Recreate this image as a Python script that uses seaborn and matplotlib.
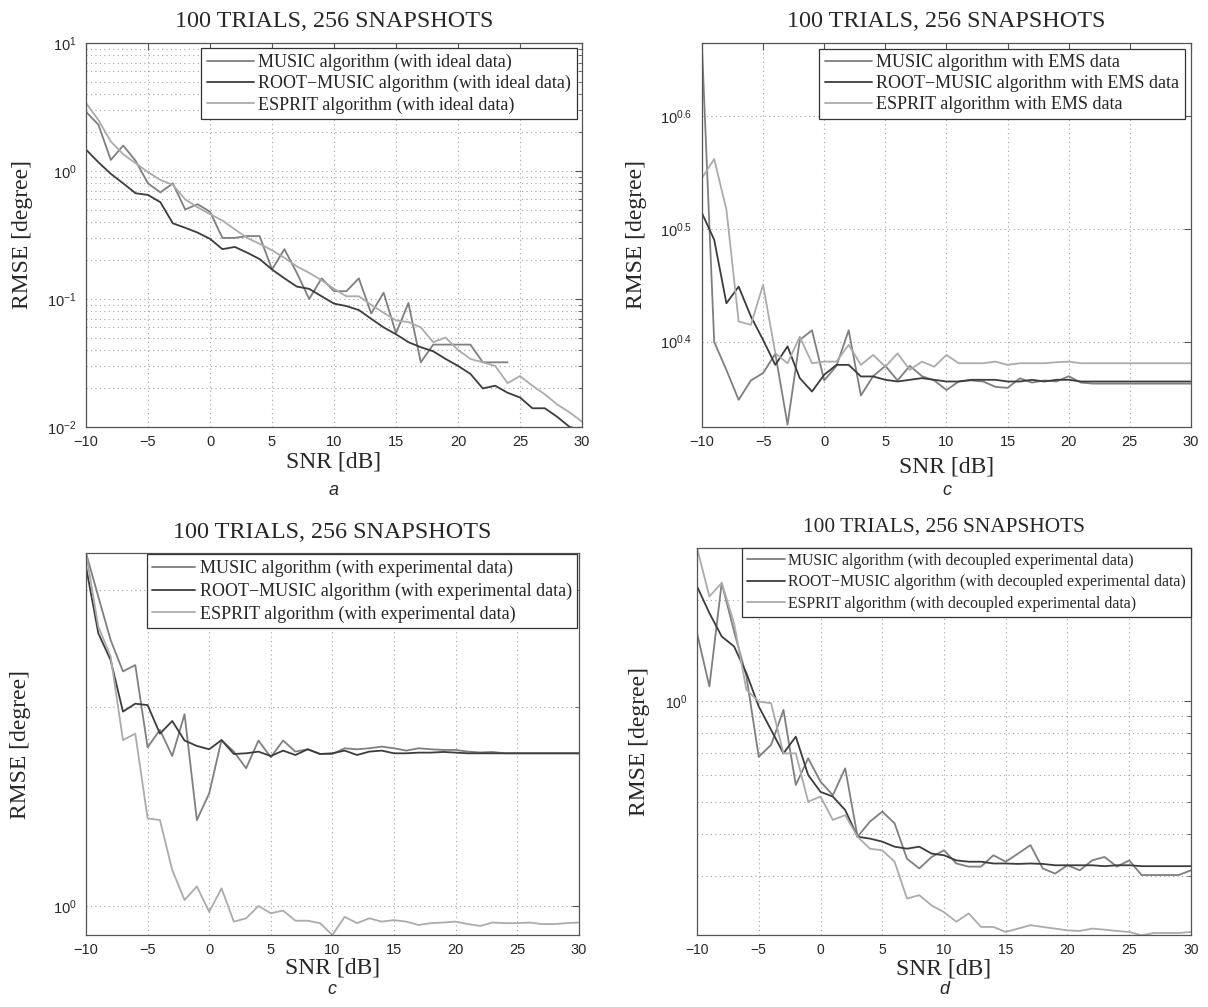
import numpy as np
import pandas as pd
import seaborn as sns
import matplotlib.pyplot as plt
from matplotlib.ticker import FixedLocator, NullLocator, NullFormatter, FixedFormatter

snr = list(range(-10, 31))
methods = ["MUSIC", "ROOT\u2212MUSIC", "ESPRIT"]
colors = ["#7f7f7f", "#3c3c3c", "#ababab"]

# a: ideal data
music_ideal = [2.9, 2.3, 1.22, 1.58, 1.2, 0.8, 0.68, 0.8, 0.5, 0.55, 0.48, 0.3, 0.3, 0.31, 0.31,
               0.17, 0.245, 0.16, 0.1, 0.145, 0.115, 0.115, 0.145, 0.077, 0.112, 0.054, 0.093,
               0.032, 0.044, 0.044, 0.044, 0.044, 0.032, 0.032, 0.032,
               np.nan, np.nan, np.nan, np.nan, np.nan, np.nan]
root_ideal = [1.47, 1.17, 0.95, 0.80, 0.67, 0.65, 0.57, 0.39, 0.36, 0.33, 0.295, 0.245, 0.255,
              0.23, 0.205, 0.17, 0.145, 0.125, 0.12, 0.105, 0.092, 0.088, 0.082, 0.07, 0.06,
              0.053, 0.046, 0.042, 0.039, 0.034, 0.03, 0.026, 0.02, 0.021, 0.0185, 0.017,
              0.014, 0.014, 0.012, 0.01, 0.0095]
esprit_ideal = [3.4, 2.5, 1.7, 1.35, 1.15, 0.98, 0.85, 0.78, 0.6, 0.52, 0.46, 0.41, 0.35, 0.3,
                0.27, 0.24, 0.21, 0.18, 0.16, 0.14, 0.12, 0.105, 0.105, 0.09, 0.078, 0.068,
                0.066, 0.06, 0.046, 0.05, 0.04, 0.034, 0.032, 0.03, 0.022, 0.025, 0.021,
                0.018, 0.015, 0.013, 0.011]

# c (top): EMS data
music_ems = [4.59, 2.51, 2.37, 2.23, 2.32, 2.355, 2.45, 2.12, 2.52, 2.57, 2.32, 2.39, 2.57,
             2.25, 2.34, 2.39, 2.32, 2.39, 2.34, 2.32, 2.275, 2.315, 2.32, 2.315, 2.29, 2.285,
             2.33, 2.31, 2.32, 2.315, 2.34, 2.31,
             2.305, 2.305, 2.305, 2.305, 2.305, 2.305, 2.305, 2.305, 2.305]
root_ems = [3.265, 3.092, 2.716, 2.81, 2.644, 2.52, 2.395, 2.487, 2.331, 2.268, 2.347, 2.395,
            2.395, 2.339, 2.339, 2.323, 2.315, 2.323, 2.331, 2.323, 2.315, 2.315, 2.323, 2.323,
            2.323, 2.315, 2.315, 2.323, 2.315, 2.323, 2.323,
            2.315, 2.315, 2.315, 2.315, 2.315, 2.315, 2.315, 2.315, 2.315, 2.315]
esprit_ems = [3.508, 3.646, 3.288, 2.617, 2.599, 2.82, 2.452, 2.403, 2.537, 2.403, 2.411, 2.411,
              2.495, 2.395, 2.444, 2.386, 2.452, 2.371, 2.411, 2.386, 2.444, 2.403, 2.403,
              2.403, 2.411, 2.395, 2.403, 2.403, 2.403, 2.408, 2.411, 2.403, 2.403, 2.403,
              2.403, 2.403, 2.403, 2.403, 2.403, 2.403, 2.403]

# c (bottom): experimental data
music_exp = [3.41, 2.93, 2.52, 2.26, 2.31, 1.736, 1.844, 1.684, 1.947, 1.348, 1.479, 1.78, 1.71,
             1.614, 1.777, 1.677, 1.777, 1.71, 1.724, 1.696, 1.696, 1.73, 1.724, 1.73, 1.74,
             1.73, 1.716, 1.73, 1.724, 1.72, 1.72, 1.71, 1.705, 1.708, 1.70,
             1.70, 1.70, 1.70, 1.70, 1.70, 1.70]
root_exp = [3.25, 2.58, 2.35, 1.965, 2.02, 2.01, 1.82, 1.902, 1.777, 1.744, 1.724, 1.78, 1.696,
            1.70, 1.71, 1.684, 1.716, 1.69, 1.724, 1.696, 1.70, 1.716, 1.69, 1.71, 1.716, 1.70,
            1.70, 1.704, 1.704, 1.708, 1.704, 1.70,
            1.70, 1.70, 1.70, 1.70, 1.70, 1.70, 1.70, 1.70, 1.70]
esprit_exp = [3.41, 2.64, 2.38, 1.78, 1.82, 1.356, 1.348, 1.133, 1.021, 1.07, 0.98, 1.063, 0.947,
              0.958, 1.0, 0.975, 0.984, 0.95, 0.95, 0.942, 0.904, 0.963, 0.942, 0.958, 0.947,
              0.952, 0.947, 0.936, 0.942, 0.944, 0.947, 0.939, 0.933, 0.944, 0.942, 0.942,
              0.944, 0.939, 0.939, 0.942, 0.944]

# d: decoupled experimental data
music_dec = [1.594, 1.104, 2.249, 1.612, 1.183, 0.681, 0.739, 0.94, 0.561, 0.674, 0.574, 0.523,
             0.629, 0.393, 0.436, 0.467, 0.431, 0.338, 0.316, 0.342, 0.358, 0.327, 0.32, 0.32,
             0.346, 0.331, 0.35, 0.371, 0.316, 0.305, 0.323, 0.312, 0.334, 0.342, 0.32, 0.334,
             0.302, 0.302, 0.302, 0.302, 0.312]
root_dec = [2.198, 1.829, 1.557, 1.454, 1.21, 0.962, 0.819, 0.697, 0.782, 0.601, 0.535, 0.518,
            0.472, 0.393, 0.388, 0.38, 0.367, 0.362, 0.367, 0.35, 0.346, 0.334, 0.331, 0.331,
            0.327, 0.327, 0.326, 0.327, 0.326, 0.323, 0.323, 0.323, 0.323, 0.321, 0.323, 0.323,
            0.321, 0.321, 0.321, 0.321, 0.321]
esprit_dec = [2.862, 2.05, 2.25, 1.707, 1.079, 0.995, 0.984, 0.697, 0.697, 0.5, 0.518, 0.441,
              0.456, 0.393, 0.362, 0.358, 0.331, 0.257, 0.263, 0.245, 0.234, 0.219, 0.232,
              0.2114, 0.2114, 0.2042, 0.209, 0.214, 0.2114, 0.209, 0.2065, 0.2056, 0.209,
              0.2075, 0.2056, 0.2042, 0.1996, 0.2028, 0.2028, 0.2028, 0.2042]

title = "100 TRIALS, 256 SNAPSHOTS"

sns.set_theme(style="white")
plt.rcParams["font.family"] = ["Liberation Serif", "DejaVu Serif"]
plt.rcParams["mathtext.default"] = "regular"
plt.rcParams["axes.unicode_minus"] = True

fig = plt.figure(figsize=(12.08, 10.07), dpi=100)

panels = [
    dict(pos=[0.0712, 0.5760, 0.4106, 0.3813], data=[music_ideal, root_ideal, esprit_ideal],
         suffix=" algorithm (with ideal data)", ylim=(1e-2, 10), letter="a",
         tfs=17.4, lfs=13, tick=10.5, bap=0.3, hl=2.6, ls=0.22, ylab=-0.129, xlab=-0.09, let=-0.165),
    dict(pos=[0.5811, 0.5763, 0.4048, 0.3813], data=[music_ems, root_ems, esprit_ems],
         suffix=" algorithm with EMS data", ylim=(10 ** 0.3245, 10 ** 0.665), letter="c",
         tfs=17.4, lfs=13, tick=10.5, bap=0.35, hl=2.6, ls=0.22, ylab=-0.133, xlab=-0.105, let=-0.165),
    dict(pos=[0.0712, 0.0715, 0.4079, 0.3793], data=[music_exp, root_exp, esprit_exp],
         suffix=" algorithm (with experimental data)", ylim=(0.904, 3.41), letter="c",
         tfs=17.4, lfs=13, tick=10.5, bap=0.08, hl=2.4, ls=0.3, ylab=-0.132, xlab=-0.087, let=-0.142),
    dict(pos=[0.5770, 0.0715, 0.4089, 0.3843], data=[music_dec, root_dec, esprit_dec],
         suffix=" algorithm (with decoupled experimental data)", ylim=(0.2, 2.86), letter="d",
         tfs=15.4, lfs=11.4, tick=10, bap=0.0, hl=2.4, ls=0.35, ylab=-0.117, xlab=-0.088, let=-0.142),
]

for i, p in enumerate(panels):
    ax = fig.add_axes(p["pos"])
    labels = [m + p["suffix"] for m in methods]
    df = pd.DataFrame({
        "SNR": snr * 3,
        "RMSE": p["data"][0] + p["data"][1] + p["data"][2],
        "method": [labels[0]] * len(snr) + [labels[1]] * len(snr) + [labels[2]] * len(snr),
    })
    sns.lineplot(data=df, x="SNR", y="RMSE", hue="method", hue_order=labels,
                 palette=colors, linewidth=1.3, errorbar=None, ax=ax)
    ax.set_yscale("log")
    ax.set_xlim(-10, 30)
    ax.set_ylim(*p["ylim"])
    ax.xaxis.set_major_locator(FixedLocator(range(-10, 31, 5)))
    ax.xaxis.set_minor_locator(NullLocator())

    if i == 1:
        ax.yaxis.set_major_locator(FixedLocator([10 ** 0.4, 10 ** 0.5, 10 ** 0.6]))
        ax.yaxis.set_major_formatter(FixedFormatter([r"$\mathdefault{10^{0.4}}$",
                                                     r"$\mathdefault{10^{0.5}}$",
                                                     r"$\mathdefault{10^{0.6}}$"]))
        ax.yaxis.set_minor_locator(NullLocator())
    elif i == 2:
        ax.yaxis.set_major_locator(FixedLocator([1.0]))
        ax.yaxis.set_major_formatter(FixedFormatter([r"$\mathdefault{10^{0}}$"]))
        ax.yaxis.set_minor_locator(FixedLocator([2, 3]))
        ax.yaxis.set_minor_formatter(NullFormatter())
    elif i == 3:
        ax.yaxis.set_major_locator(FixedLocator([1.0]))
        ax.yaxis.set_major_formatter(FixedFormatter([r"$\mathdefault{10^{0}}$"]))
        ax.yaxis.set_minor_locator(FixedLocator([0.2, 0.3, 0.4, 0.5, 0.6, 0.7, 0.8, 0.9, 2]))
        ax.yaxis.set_minor_formatter(NullFormatter())

    ax.grid(True, which="both", linestyle=(0, (1, 3)), color="#a0a0a0", linewidth=0.8)
    ax.tick_params(which="both", direction="in", top=True, right=True, color="#555555",
                   labelsize=p["tick"], labelfontfamily="Liberation Sans")
    ax.tick_params(axis="x", which="both", pad=6)
    ax.tick_params(axis="y", which="both", pad=7)
    ax.tick_params(which="major", length=5, width=0.8)
    ax.tick_params(which="minor", length=3, width=0.6)
    for s in ax.spines.values():
        s.set_color("#555555")
        s.set_linewidth(0.9)

    ax.set_xlabel("SNR [dB]", fontsize=17)
    ax.xaxis.set_label_coords(0.5, p["xlab"])
    ax.xaxis.label.set_va("center")
    ax.set_ylabel("RMSE [degree]", fontsize=17)
    ax.yaxis.set_label_coords(p["ylab"], 0.5)
    ax.yaxis.label.set_va("center")

    h = ax.bbox.height
    ax.text(0.5, 1 + 21 / h, title, transform=ax.transAxes,
            ha="center", va="center", fontsize=p["tfs"])
    ax.text(0.5, p["let"], p["letter"], transform=ax.transAxes, ha="center", va="center",
            fontsize=13, family="Liberation Sans", style="italic")

    handles, labs = ax.get_legend_handles_labels()
    leg = ax.legend(handles, labs, loc="upper right", fontsize=p["lfs"], frameon=True,
                    fancybox=False, edgecolor="#333333", framealpha=1, borderaxespad=p["bap"],
                    handlelength=p["hl"], handletextpad=0.25, labelspacing=p["ls"],
                    borderpad=0.3, title=None)
    leg.get_frame().set_linewidth(0.9)

fig.savefig("out.png", dpi=100)
